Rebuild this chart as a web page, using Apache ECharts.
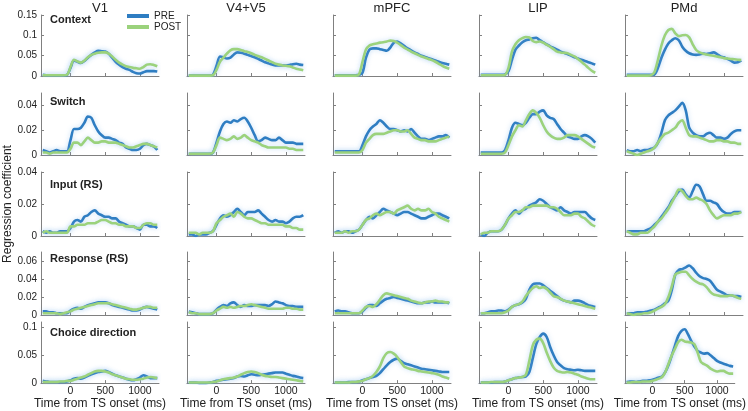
<!DOCTYPE html>
<html>
<head>
<meta charset="utf-8">
<script src="https://cdn.jsdelivr.net/npm/echarts@6/dist/echarts.min.js"></script>
<style>
  html, body { margin: 0; padding: 0; background: #fff; }
  #chart { width: 748px; height: 411px; }
</style>
</head>
<body>
<div id="chart"></div>
<script>
// time base (ms from TS onset)
const times = [-400, -350, -300, -250, -200, -150, -100, -50, 0, 50, 100, 150, 200, 250, 300, 350, 400,
  450, 500, 550, 600, 650, 700, 750, 800, 850, 900, 950, 1000, 1050, 1100, 1150, 1200, 1250]

const columns = ['V1', 'V4+V5', 'mPFC', 'LIP', 'PMd']
const rowLabels = ['Context', 'Switch', 'Input (RS)', 'Response (RS)', 'Choice direction']
const yMax = [0.15, 0.05, 0.04, 0.07, 0.11]
const yTicks = [[0, 0.05, 0.1, 0.15], [0, 0.02, 0.04], [0, 0.02, 0.04], [0, 0.02, 0.04, 0.06], [0, 0.05, 0.1]]
const xTicks = [0, 500, 1000]

// Context
const ctxV1Pre = [0.003,0.002,0.002,0.002,0.002,0.002,0.002,0.003, 0.02,0.038,0.035,0.032,0.037,0.045,0.052,0.058,0.062,0.061,0.06,0.055,0.045,0.035,0.028,0.022,0.018,0.015,0.01,0.007,0.006,0.009,0.012,0.012,0.012,0.011]
const ctxV1Post = [0.002,0.002,0.002,0.002,0.002,0.002,0.002,0.003, 0.022,0.04,0.036,0.033,0.038,0.046,0.052,0.055,0.057,0.058,0.058,0.055,0.048,0.04,0.033,0.028,0.024,0.022,0.02,0.019,0.018,0.022,0.028,0.029,0.027,0.024]
const ctxV45Pre = [0.001,0.001,0.001,0.001,0.001,0.001,0.001,0.003, 0.025,0.048,0.046,0.043,0.045,0.053,0.058,0.057,0.055,0.052,0.049,0.046,0.042,0.038,0.034,0.031,0.028,0.026,0.026,0.026,0.026,0.027,0.029,0.03,0.028,0.027]
const ctxV45Post = [0.001,0.001,0.001,0.001,0.001,0.001,0.001,0.002, 0.015,0.035,0.045,0.055,0.063,0.066,0.066,0.064,0.061,0.059,0.056,0.052,0.049,0.046,0.042,0.038,0.034,0.03,0.028,0.026,0.025,0.024,0.021,0.018,0.016,0.014]
const ctxPfcPre = [0.002,0.002,0.002,0.002,0.002,0.002,0.002,0.003, 0.008,0.045,0.065,0.068,0.068,0.066,0.064,0.062,0.07,0.082,0.085,0.08,0.074,0.068,0.063,0.058,0.054,0.05,0.047,0.044,0.041,0.038,0.035,0.032,0.03,0.028]
const ctxPfcPost = [0.001,0.001,0.001,0.001,0.001,0.001,0.001,0.004, 0.035,0.065,0.075,0.078,0.08,0.082,0.083,0.085,0.087,0.086,0.082,0.076,0.07,0.065,0.06,0.056,0.052,0.048,0.045,0.042,0.039,0.035,0.03,0.025,0.021,0.018]
const ctxLipPre = [0.003,0.003,0.003,0.003,0.003,0.003,0.003,0.004, 0.012,0.04,0.065,0.075,0.083,0.088,0.09,0.093,0.094,0.088,0.083,0.078,0.073,0.069,0.065,0.06,0.057,0.054,0.05,0.046,0.043,0.04,0.037,0.034,0.031,0.028]
const ctxLipPost = [0.002,0.002,0.002,0.002,0.002,0.002,0.002,0.003, 0.02,0.06,0.078,0.088,0.093,0.096,0.095,0.086,0.083,0.085,0.082,0.077,0.072,0.066,0.06,0.058,0.057,0.056,0.052,0.048,0.042,0.035,0.028,0.02,0.013,0.008]
const ctxPmdPre = [0.003,0.003,0.003,0.003,0.003,0.003,0.003,0.003, 0.004,0.02,0.045,0.065,0.08,0.088,0.093,0.088,0.072,0.062,0.056,0.053,0.052,0.053,0.055,0.054,0.056,0.058,0.054,0.048,0.046,0.042,0.038,0.033,0.034,0.038]
const ctxPmdPost = [0.001,0.001,0.001,0.001,0.001,0.001,0.001,0.002, 0.01,0.04,0.075,0.1,0.113,0.116,0.105,0.098,0.1,0.101,0.095,0.078,0.064,0.058,0.055,0.053,0.051,0.05,0.048,0.046,0.044,0.043,0.042,0.041,0.04,0.039]

// Switch
const swV1Pre = [0.004,0.003,0.002,0.003,0.004,0.003,0.003,0.003, 0.012,0.021,0.021,0.022,0.026,0.031,0.03,0.024,0.019,0.016,0.014,0.014,0.013,0.012,0.01,0.009,0.006,0.005,0.004,0.004,0.005,0.008,0.009,0.008,0.007,0.004]
const swV1Post = [0.002,0.002,0.001,0.002,0.002,0.002,0.002,0.002, 0.005,0.01,0.01,0.008,0.011,0.014,0.012,0.01,0.01,0.011,0.011,0.01,0.01,0.01,0.009,0.008,0.007,0.006,0.006,0.007,0.008,0.009,0.009,0.008,0.007,0.006]
const swV45Pre = [0.001,0.001,0.001,0.001,0.001,0.001,0.001,0.002, 0.01,0.019,0.025,0.027,0.026,0.028,0.027,0.029,0.03,0.027,0.022,0.016,0.011,0.012,0.014,0.013,0.012,0.012,0.014,0.012,0.01,0.01,0.01,0.009,0.009,0.009]
const swV45Post = [0.001,0.001,0.001,0.001,0.001,0.001,0.001,0.002, 0.008,0.014,0.013,0.012,0.013,0.015,0.013,0.014,0.016,0.014,0.012,0.011,0.01,0.008,0.007,0.006,0.006,0.006,0.006,0.006,0.006,0.005,0.005,0.004,0.004,0.004]
const swPfcPre = [0.003,0.003,0.003,0.003,0.003,0.003,0.003,0.003, 0.008,0.015,0.02,0.023,0.025,0.028,0.026,0.023,0.021,0.021,0.02,0.019,0.02,0.019,0.021,0.018,0.015,0.013,0.013,0.012,0.013,0.014,0.015,0.015,0.016,0.014]
const swPfcPost = [0.002,0.002,0.002,0.002,0.002,0.002,0.002,0.002, 0.004,0.01,0.013,0.016,0.017,0.017,0.017,0.018,0.019,0.02,0.02,0.019,0.019,0.02,0.017,0.014,0.013,0.012,0.012,0.011,0.011,0.011,0.012,0.013,0.014,0.015]
const swLipPre = [0.002,0.002,0.002,0.002,0.002,0.002,0.002,0.004, 0.012,0.022,0.026,0.025,0.024,0.026,0.03,0.033,0.033,0.035,0.036,0.032,0.03,0.029,0.025,0.021,0.018,0.015,0.014,0.013,0.013,0.015,0.016,0.015,0.013,0.01]
const swLipPost = [0.001,0.001,0.001,0.001,0.001,0.001,0.001,0.002, 0.008,0.015,0.02,0.024,0.023,0.028,0.033,0.036,0.034,0.03,0.024,0.019,0.016,0.014,0.013,0.013,0.014,0.016,0.016,0.016,0.015,0.013,0.011,0.009,0.007,0.006]
const swPmdPre = [0.004,0.003,0.003,0.004,0.003,0.004,0.004,0.005, 0.006,0.01,0.018,0.028,0.032,0.034,0.036,0.039,0.042,0.036,0.022,0.018,0.016,0.015,0.015,0.017,0.018,0.016,0.014,0.014,0.013,0.014,0.017,0.019,0.02,0.02]
const swPmdPost = [0.003,0.002,0.001,0.0,0.001,0.002,0.003,0.004, 0.006,0.01,0.014,0.017,0.018,0.02,0.022,0.026,0.028,0.022,0.016,0.015,0.015,0.014,0.013,0.012,0.011,0.011,0.012,0.012,0.011,0.011,0.01,0.01,0.009,0.009]

// Input (RS)
const inV1Pre = [0.003,0.002,0.003,0.002,0.002,0.003,0.003,0.003, 0.005,0.009,0.01,0.009,0.012,0.013,0.015,0.016,0.014,0.013,0.012,0.012,0.011,0.011,0.009,0.008,0.007,0.006,0.006,0.005,0.004,0.007,0.007,0.006,0.006,0.005]
const inV1Post = [0.002,0.003,0.002,0.002,0.002,0.002,0.002,0.002, 0.006,0.006,0.007,0.007,0.007,0.008,0.008,0.008,0.009,0.01,0.01,0.009,0.008,0.008,0.007,0.007,0.006,0.006,0.006,0.005,0.005,0.007,0.008,0.008,0.007,0.007]
const inV45Pre = [0.001,0.001,0.0,0.001,0.001,0.001,0.002,0.003, 0.007,0.011,0.013,0.012,0.013,0.015,0.017,0.015,0.013,0.015,0.015,0.015,0.016,0.014,0.012,0.01,0.009,0.01,0.009,0.009,0.008,0.009,0.011,0.012,0.012,0.013]
const inV45Post = [0.002,0.002,0.002,0.001,0.002,0.002,0.002,0.003, 0.008,0.01,0.012,0.013,0.014,0.012,0.015,0.014,0.012,0.011,0.011,0.01,0.009,0.008,0.008,0.007,0.007,0.007,0.007,0.007,0.006,0.006,0.005,0.005,0.004,0.004]
const inPfcPre = [0.002,0.003,0.002,0.003,0.003,0.002,0.003,0.004, 0.007,0.01,0.012,0.011,0.013,0.015,0.017,0.016,0.015,0.014,0.013,0.014,0.015,0.015,0.014,0.013,0.012,0.011,0.011,0.012,0.013,0.014,0.014,0.013,0.012,0.011]
const inPfcPost = [0.002,0.002,0.002,0.003,0.002,0.003,0.003,0.004, 0.007,0.01,0.011,0.013,0.014,0.013,0.014,0.015,0.015,0.014,0.016,0.017,0.018,0.019,0.017,0.016,0.017,0.016,0.016,0.017,0.015,0.014,0.012,0.011,0.01,0.009]
const inLipPre = [0.001,0.0,0.002,0.003,0.003,0.003,0.004,0.007, 0.011,0.014,0.016,0.014,0.016,0.017,0.019,0.02,0.021,0.023,0.022,0.02,0.018,0.017,0.016,0.018,0.016,0.015,0.014,0.015,0.015,0.015,0.015,0.013,0.011,0.01]
const inLipPost = [0.001,0.002,0.002,0.003,0.003,0.003,0.004,0.007, 0.011,0.013,0.015,0.015,0.016,0.018,0.018,0.019,0.019,0.019,0.019,0.019,0.018,0.018,0.017,0.015,0.013,0.013,0.013,0.014,0.014,0.012,0.011,0.009,0.007,0.006]
const inPmdPre = [0.003,0.003,0.003,0.003,0.003,0.003,0.004,0.005, 0.007,0.009,0.012,0.015,0.018,0.022,0.025,0.028,0.029,0.026,0.024,0.028,0.032,0.031,0.026,0.022,0.022,0.021,0.02,0.017,0.015,0.014,0.014,0.015,0.015,0.015]
const inPmdPost = [0.003,0.002,0.001,0.001,0.002,0.002,0.002,0.004, 0.006,0.009,0.011,0.014,0.017,0.021,0.025,0.029,0.028,0.025,0.023,0.023,0.024,0.023,0.022,0.02,0.016,0.013,0.011,0.012,0.013,0.013,0.013,0.014,0.014,0.015]

// Response (RS)
const rsV1Pre = [0.004,0.004,0.003,0.003,0.002,0.002,0.002,0.002, 0.005,0.007,0.008,0.007,0.009,0.011,0.012,0.013,0.014,0.014,0.014,0.013,0.011,0.01,0.009,0.008,0.007,0.006,0.005,0.005,0.006,0.008,0.009,0.008,0.007,0.006]
const rsV1Post = [0.002,0.002,0.002,0.002,0.002,0.001,0.002,0.003, 0.004,0.006,0.007,0.008,0.009,0.01,0.011,0.012,0.013,0.013,0.013,0.013,0.012,0.011,0.01,0.009,0.008,0.007,0.006,0.006,0.007,0.008,0.009,0.009,0.008,0.008]
const rsV45Pre = [0.004,0.003,0.002,0.001,0.001,0.001,0.001,0.002, 0.006,0.009,0.011,0.01,0.013,0.014,0.011,0.009,0.011,0.01,0.01,0.011,0.011,0.011,0.011,0.01,0.012,0.015,0.014,0.013,0.011,0.01,0.01,0.009,0.009,0.009]
const rsV45Post = [0.003,0.002,0.002,0.001,0.001,0.001,0.001,0.002, 0.005,0.007,0.009,0.008,0.009,0.008,0.009,0.01,0.01,0.011,0.012,0.011,0.01,0.009,0.008,0.007,0.007,0.007,0.007,0.007,0.008,0.008,0.007,0.007,0.006,0.006]
const rsPfcPre = [0.004,0.005,0.004,0.004,0.003,0.002,0.002,0.002, 0.004,0.008,0.011,0.011,0.01,0.013,0.016,0.018,0.019,0.02,0.019,0.018,0.017,0.016,0.015,0.014,0.013,0.013,0.014,0.014,0.015,0.014,0.014,0.014,0.014,0.013]
const rsPfcPost = [0.002,0.002,0.002,0.002,0.002,0.002,0.002,0.002, 0.005,0.009,0.01,0.009,0.012,0.017,0.022,0.024,0.023,0.022,0.021,0.02,0.019,0.018,0.016,0.015,0.014,0.013,0.014,0.015,0.015,0.016,0.015,0.015,0.014,0.014]
const rsLipPre = [0.002,0.002,0.003,0.004,0.004,0.005,0.005,0.004, 0.006,0.009,0.011,0.012,0.014,0.018,0.028,0.034,0.035,0.035,0.033,0.03,0.027,0.024,0.021,0.018,0.016,0.015,0.014,0.016,0.016,0.015,0.013,0.011,0.01,0.009]
const rsLipPost = [0.002,0.002,0.002,0.002,0.002,0.002,0.002,0.003, 0.005,0.009,0.011,0.012,0.015,0.021,0.026,0.03,0.032,0.03,0.031,0.029,0.025,0.021,0.02,0.018,0.016,0.015,0.014,0.013,0.012,0.011,0.01,0.009,0.008,0.007]
const rsPmdPre = [0.002,0.002,0.002,0.003,0.003,0.003,0.004,0.005, 0.006,0.008,0.01,0.013,0.016,0.028,0.045,0.05,0.051,0.053,0.055,0.052,0.047,0.043,0.041,0.04,0.038,0.033,0.028,0.026,0.024,0.022,0.022,0.021,0.021,0.02]
const rsPmdPost = [0.002,0.001,0.0,0.001,0.001,0.002,0.002,0.003, 0.005,0.007,0.009,0.012,0.02,0.032,0.045,0.047,0.048,0.048,0.044,0.04,0.037,0.035,0.034,0.031,0.026,0.023,0.022,0.021,0.021,0.021,0.022,0.021,0.019,0.018]

// Choice direction
const chV1Pre = [0.004,0.003,0.002,0.002,0.002,0.002,0.002,0.003, 0.005,0.008,0.009,0.008,0.01,0.013,0.016,0.018,0.02,0.021,0.022,0.02,0.017,0.014,0.012,0.01,0.008,0.006,0.005,0.007,0.01,0.014,0.012,0.009,0.009,0.009]
const chV1Post = [0.002,0.002,0.002,0.002,0.002,0.003,0.003,0.004, 0.004,0.006,0.008,0.01,0.012,0.015,0.018,0.021,0.022,0.022,0.021,0.019,0.016,0.014,0.012,0.01,0.008,0.007,0.006,0.006,0.007,0.008,0.01,0.011,0.01,0.009]
const chV45Pre = [0.001,0.001,0.001,0.0,0.0,0.0,0.001,0.002, 0.004,0.005,0.006,0.007,0.008,0.009,0.012,0.013,0.012,0.014,0.016,0.015,0.014,0.015,0.016,0.017,0.018,0.019,0.019,0.019,0.017,0.015,0.013,0.012,0.01,0.009]
const chV45Post = [0.001,0.001,0.001,0.001,0.001,0.001,0.001,0.002, 0.003,0.005,0.007,0.008,0.009,0.01,0.012,0.015,0.018,0.02,0.021,0.02,0.018,0.015,0.013,0.012,0.011,0.011,0.01,0.009,0.008,0.007,0.006,0.005,0.004,0.003]
const chPfcPre = [0.001,0.001,0.001,0.001,0.002,0.002,0.002,0.003, 0.005,0.007,0.009,0.011,0.013,0.018,0.025,0.032,0.038,0.042,0.044,0.04,0.036,0.034,0.032,0.03,0.028,0.026,0.025,0.024,0.023,0.022,0.021,0.02,0.02,0.02]
const chPfcPost = [0.001,0.001,0.001,0.001,0.001,0.002,0.002,0.003, 0.004,0.007,0.009,0.013,0.02,0.03,0.045,0.054,0.056,0.053,0.047,0.038,0.03,0.027,0.025,0.024,0.022,0.021,0.02,0.019,0.018,0.017,0.015,0.012,0.01,0.008]
const chLipPre = [0.001,0.001,0.001,0.001,0.002,0.002,0.002,0.003, 0.005,0.007,0.009,0.01,0.011,0.012,0.02,0.045,0.07,0.083,0.089,0.083,0.065,0.05,0.038,0.032,0.027,0.025,0.024,0.023,0.024,0.023,0.022,0.022,0.022,0.022]
const chLipPost = [0.001,0.001,0.001,0.002,0.002,0.002,0.002,0.003, 0.005,0.007,0.009,0.01,0.011,0.015,0.04,0.068,0.078,0.08,0.072,0.055,0.04,0.028,0.022,0.02,0.019,0.02,0.019,0.017,0.015,0.012,0.01,0.008,0.007,0.007]
const chPmdPre = [0.002,0.003,0.003,0.002,0.003,0.004,0.004,0.005, 0.006,0.008,0.01,0.012,0.02,0.033,0.05,0.068,0.085,0.094,0.097,0.088,0.076,0.066,0.058,0.055,0.053,0.054,0.05,0.045,0.04,0.037,0.035,0.033,0.031,0.03]
const chPmdPost = [0.001,0.001,0.002,0.002,0.002,0.003,0.003,0.003, 0.004,0.006,0.008,0.011,0.02,0.035,0.05,0.062,0.074,0.078,0.075,0.074,0.073,0.07,0.055,0.038,0.034,0.031,0.026,0.023,0.021,0.022,0.022,0.019,0.017,0.017]

// rows x columns -> [PRE, POST]
const panels = [
  [[ctxV1Pre, ctxV1Post], [ctxV45Pre, ctxV45Post], [ctxPfcPre, ctxPfcPost], [ctxLipPre, ctxLipPost], [ctxPmdPre, ctxPmdPost]],
  [[swV1Pre, swV1Post], [swV45Pre, swV45Post], [swPfcPre, swPfcPost], [swLipPre, swLipPost], [swPmdPre, swPmdPost]],
  [[inV1Pre, inV1Post], [inV45Pre, inV45Post], [inPfcPre, inPfcPost], [inLipPre, inLipPost], [inPmdPre, inPmdPost]],
  [[rsV1Pre, rsV1Post], [rsV45Pre, rsV45Post], [rsPfcPre, rsPfcPost], [rsLipPre, rsLipPost], [rsPmdPre, rsPmdPost]],
  [[chV1Pre, chV1Post], [chV45Pre, chV45Post], [chPfcPre, chPfcPost], [chLipPre, chLipPost], [chPmdPre, chPmdPost]]
]

// layout
const colLeft = [41, 187, 333, 479, 625]
const panelW = 118
const rowTop = [15, 93, 172, 252, 322]
const rowH = [61, 62, 64, 63, 63]
const labelY = [20, 102, 185, 259, 333]

const AXIS = '#808080'
const TEXT = '#222'
const PRE_COLOR = '#2e7dc2'
const POST_COLOR = '#9bd27c'
const FONT = '"Liberation Sans", Arial, sans-serif'

const grids = []
const xAxes = []
const yAxes = []
const series = []
const graphics = []

rowLabels.forEach((label, r) => {
  columns.forEach((col, c) => {
    const idx = grids.length
    grids.push({ left: colLeft[c], top: rowTop[r], width: panelW, height: rowH[r] })
    const lastRow = r === rowLabels.length - 1
    xAxes.push({
      type: 'value', gridIndex: idx, min: -425, max: 1275,
      axisLine: { onZero: false, lineStyle: { color: AXIS, width: 1 } },
      axisTick: { inside: true, length: 3, customValues: xTicks, lineStyle: { color: AXIS } },
      axisLabel: {
        show: lastRow, customValues: xTicks, fontSize: 10.5, color: TEXT, margin: 3, fontFamily: FONT,
        formatter: v => String(v)
      },
      splitLine: { show: false },
      name: lastRow ? 'Time from TS onset (ms)' : '',
      nameLocation: 'middle', nameGap: 12,
      nameTextStyle: { fontSize: 12, color: TEXT, fontFamily: FONT }
    })
    yAxes.push({
      type: 'value', gridIndex: idx, min: 0, max: yMax[r],
      axisLine: { show: true, onZero: false, lineStyle: { color: AXIS, width: 1 } },
      axisTick: { show: true, inside: true, length: 3, customValues: yTicks[r], lineStyle: { color: AXIS } },
      axisLabel: {
        show: c === 0, customValues: yTicks[r], fontSize: 10, color: TEXT, margin: 4, fontFamily: FONT,
        formatter: v => String(+v.toFixed(3))
      },
      splitLine: { show: false },
      name: (c === 0 && r === 2) ? 'Regression coefficient' : '',
      nameLocation: 'middle', nameGap: 27, nameRotate: 90,
      nameTextStyle: { fontSize: 12, color: TEXT, fontFamily: FONT }
    })
    const [pre, post] = panels[r][c]
    const mk = (name, arr, color) => ({
      name, type: 'line', xAxisIndex: idx, yAxisIndex: idx,
      data: times.map((t, i) => [t, arr[i]]),
      showSymbol: false, smooth: 0.3, silent: true,
      lineStyle: { color, width: 2.6, shadowColor: 'rgba(130,185,235,0.45)', shadowBlur: 5 },
      itemStyle: { color }
    })
    series.push(mk('PRE', pre, PRE_COLOR))
    series.push(mk('POST', post, POST_COLOR))
  })
  graphics.push({
    type: 'text', x: 50, y: labelY[r],
    style: { text: label, fill: TEXT, font: 'bold 11px ' + FONT, textVerticalAlign: 'middle', verticalAlign: 'middle' }
  })
})

columns.forEach((col, c) => {
  graphics.push({
    type: 'text', x: colLeft[c] + panelW / 2, y: 8,
    style: { text: col, fill: TEXT, font: '13px ' + FONT, textAlign: 'center', align: 'center', textVerticalAlign: 'middle', verticalAlign: 'middle' }
  })
})

const chart = echarts.init(document.getElementById('chart'))
chart.setOption({
  animation: false,
  backgroundColor: '#fff',
  textStyle: { fontFamily: FONT },
  grid: grids,
  xAxis: xAxes,
  yAxis: yAxes,
  series,
  graphic: graphics,
  legend: {
    data: ['PRE', 'POST'],
    orient: 'vertical', left: 127, top: 11, padding: 0, itemGap: 1,
    icon: 'rect', itemWidth: 22, itemHeight: 4,
    textStyle: { fontSize: 10, color: TEXT, fontFamily: FONT, padding: [0, 0, 0, 0] }
  }
})
</script>
</body>
</html>
